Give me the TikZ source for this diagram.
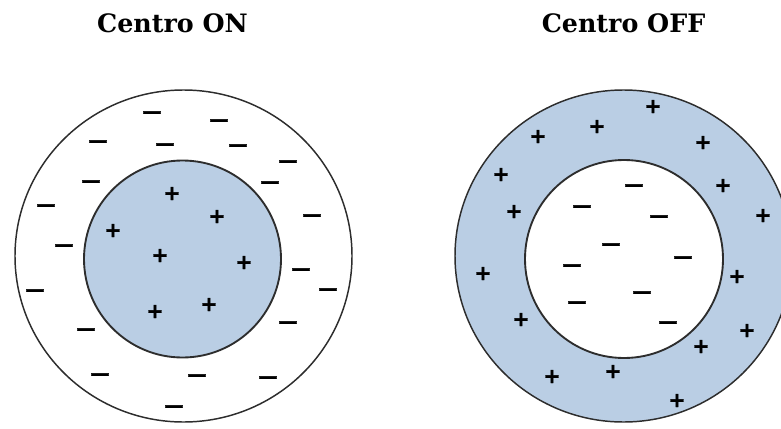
\documentclass[tikz,border=0pt]{standalone}
\usepackage{fontspec}
\newfontfamily\titlefont{DejaVu Serif}
\newfontfamily\signfont[BoldFeatures={FakeBold=1.6}]{DejaVu Sans}
\definecolor{cellblue}{RGB}{186,206,228}
\definecolor{rimgray}{RGB}{45,45,45}
\begin{document}
\begin{tikzpicture}[x=0.75pt,y=-0.75pt,
  title/.style={font=\titlefont\bfseries\fontsize{19}{22}\selectfont, anchor=base, inner sep=0pt},
  outerring/.style={draw=rimgray, line width=1.1pt},
  innerring/.style={draw=rimgray, line width=1.4pt},
  possign/.style={font=\signfont\bfseries\fontsize{15.5}{16}\selectfont, inner sep=0pt, text height=7.6pt, text depth=0pt},
  negsign/.style={font=\signfont\bfseries\fontsize{15.5}{16}\selectfont, inner sep=0pt, text height=7.6pt, text depth=0pt}
]
\useasboundingbox (0,0) rectangle (781,428);
\clip (0,0) rectangle (781,428);

% titles
\node[title] (ton)  at (172.5,33) {Centro ON};
\node[title] (toff) at (623.5,33) {Centro OFF};

% ON-centre cell: white surround, blue centre
\path[outerring, fill=white] (183.5,256) ellipse [x radius=168.5, y radius=166];
\path[innerring, fill=cellblue] (182.5,259) circle [radius=98.5];

% OFF-centre cell: blue surround, white centre
\path[outerring, fill=cellblue] (623.5,256) ellipse [x radius=168.5, y radius=166];
\path[innerring, fill=white] (624,259) circle [radius=99];

% surround of the ON cell
\foreach \x/\y [count=\i] in {152/114, 219/122, 98/143, 165/146, 238/147, 288/163,
  91/183, 270/184, 46/207, 312/217, 64/247, 301/271, 35/292, 328/291,
  86/331, 288/324, 100/376, 197/377, 268/379, 174/408}
  \node[negsign] (onm\i) at (\x,\y) {\scalebox{1.35}[1]{−}};

% centre of the ON cell
\foreach \x/\y [count=\i] in {172/195, 217/218, 113/232, 160/257, 244/264, 209/306, 155/313}
  \node[possign] (onp\i) at (\x,\y) {+};

% surround of the OFF cell
\foreach \x/\y [count=\i] in {653/108, 597/128, 538/138, 703/144, 501/176, 723/187,
  514/213, 763/217, 483/275, 737/278, 521/321, 747/332, 701/348, 613/373,
  552/378, 677/402}
  \node[possign] (offp\i) at (\x,\y) {+};

% centre of the OFF cell
\foreach \x/\y [count=\i] in {634/187, 582/208, 659/218, 611/246, 683/259,
  572/267, 642/294, 577/304, 668/324}
  \node[negsign] (offm\i) at (\x,\y) {\scalebox{1.35}[1]{−}};
\end{tikzpicture}
\end{document}
